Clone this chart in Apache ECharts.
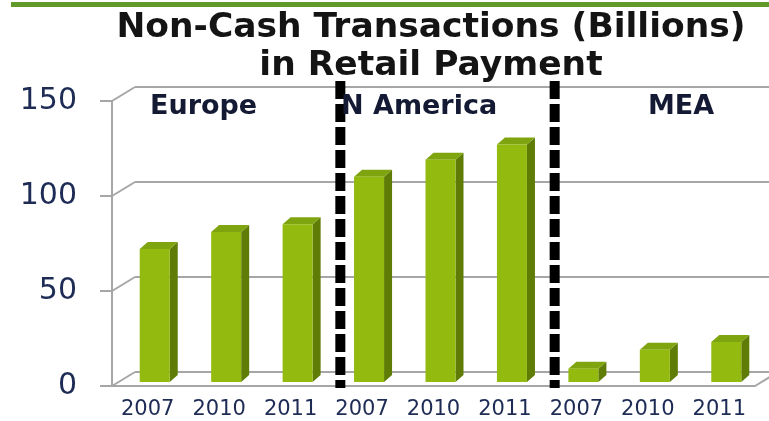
<!DOCTYPE html>
<html>
<head>
<meta charset="utf-8">
<script src="https://cdn.jsdelivr.net/npm/echarts@6/dist/echarts.min.js"></script>
<style>
  html, body { margin: 0; padding: 0; background: #fff; }
  #chart { width: 769px; height: 421px; }
</style>
</head>
<body>
<div id="chart"></div>
<script>
// data
const regions = ['Europe', 'N America', 'MEA'];
const years = ['2007', '2010', '2011'];
const europe = [70, 79, 83];
const nAmerica = [108, 117, 125];
const mea = [7, 17, 21];
const yTicks = [0, 50, 100, 150];
const separators = [3, 6]; // category boundaries between the regions

const categories = regions.flatMap(r => years.map(y => r + '|' + y));
const values = [].concat(europe, nAmerica, mea);

// fake 3d look
const DX = 23, DY = -14;
const gridColor = '#a6a6a6';
const labelColor = '#1d2b55';
const font = 'DejaVu Sans';
// where the region names sit (left edge, px)
const regionLabelX = [150, 341, 648];

const chart = echarts.init(document.getElementById('chart'));

const option = {
  animation: false,
  grid: [
    { left: 112, top: 101, width: 643, height: 285 },
    { left: 112 + DX, top: 101 + DY, width: 643, height: 285 }
  ],
  xAxis: [
    {
      gridIndex: 0,
      type: 'category',
      data: categories,
      axisLine: { lineStyle: { color: gridColor, width: 2 } },
      axisTick: { length: 6, lineStyle: { color: gridColor, width: 2 } },
      axisLabel: {
        formatter: v => v.split('|')[1],
        fontFamily: font, fontSize: 21, color: labelColor, margin: 13
      }
    },
    { gridIndex: 1, type: 'category', data: categories, show: false }
  ],
  yAxis: [
    {
      gridIndex: 0, type: 'value', min: 0, max: 150, interval: 50,
      axisLine: { show: true, lineStyle: { color: gridColor, width: 2 } },
      axisTick: { show: true, length: 12, lineStyle: { color: gridColor, width: 2 } },
      axisLabel: { fontFamily: font, fontSize: 30, color: labelColor, margin: 35 },
      splitLine: { show: false }
    },
    {
      gridIndex: 1, type: 'value', min: 0, max: 150, interval: 50,
      axisLine: { show: false }, axisTick: { show: false }, axisLabel: { show: false },
      splitLine: { show: true, lineStyle: { color: gridColor, width: 2 } }
    }
  ],
  graphic: [
    { type: 'rect', shape: { x: 11, y: 2, width: 760, height: 5 }, style: { fill: '#5f9a2a' } },
    {
      type: 'text', x: 431, y: 9,
      style: {
        text: 'Non-Cash Transactions (Billions)\nin Retail Payment',
        font: 'bold 34.5px "DejaVu Sans"', fill: '#141414',
        align: 'center', verticalAlign: 'top', lineHeight: 38
      }
    }
  ].concat(regions.map((r, i) => ({
    type: 'text', x: regionLabelX[i], y: 107, z: 20,
    style: { text: r, font: 'bold 27px "DejaVu Sans"', fill: '#141a33', verticalAlign: 'middle' }
  }))),
  series: [
    {
      // diagonal edges of the side wall and floor
      type: 'custom',
      xAxisIndex: 0, yAxisIndex: 0,
      data: yTicks.map(v => [0, v]),
      renderItem(params, api) {
        const cs = params.coordSys;
        const y = api.coord([0, api.value(1)])[1];
        const st = { stroke: gridColor, lineWidth: 2 };
        const kids = [{ type: 'line', shape: { x1: cs.x, y1: y, x2: cs.x + DX, y2: y + DY }, style: st }];
        if (api.value(1) === 0) {
          kids.push({ type: 'line', shape: { x1: cs.x + cs.width, y1: y, x2: cs.x + cs.width + DX, y2: y + DY }, style: st });
        }
        return { type: 'group', children: kids };
      },
      z: 1
    },
    {
      type: 'custom',
      xAxisIndex: 0, yAxisIndex: 0,
      data: values.map((v, i) => [i, v]),
      renderItem(params, api) {
        const p = api.coord([api.value(0), api.value(1)]);
        const b = api.coord([api.value(0), 0]);
        const band = api.size([1, 0])[0];
        const w = band * 0.42, dx = 8, dy = -7;
        const x = p[0] - 8;
        const top = p[1] - 4, bot = b[1] - 4;
        return {
          type: 'group',
          children: [
            { type: 'polygon', shape: { points: [[x + w, top], [x + w + dx, top + dy], [x + w + dx, bot + dy], [x + w, bot]] },
              style: { fill: '#5e7c06' } },
            { type: 'polygon', shape: { points: [[x, top], [x + dx, top + dy], [x + w + dx, top + dy], [x + w, top]] },
              style: { fill: '#7ea40f' } },
            { type: 'rect', shape: { x: x, y: top, width: w, height: bot - top },
              style: { fill: '#93ba0e' } }
          ]
        };
      },
      z: 3
    },
    {
      // dashed region separators
      type: 'custom',
      xAxisIndex: 0, yAxisIndex: 0,
      data: separators.map(s => [s, 0]),
      renderItem(params, api) {
        const band = api.size([1, 0])[0];
        const x = api.coord([api.value(0), 0])[0] - band / 2 + 14;
        const y0 = api.coord([0, 0])[1] + 2;
        const y1 = api.coord([0, 150])[1] - 20;
        return {
          type: 'line',
          shape: { x1: x, y1: y1, x2: x, y2: y0 },
          style: { stroke: '#000', lineWidth: 10, lineDash: [18, 5] }
        };
      },
      z: 5
    }
  ]
};

chart.setOption(option);
</script>
</body>
</html>
